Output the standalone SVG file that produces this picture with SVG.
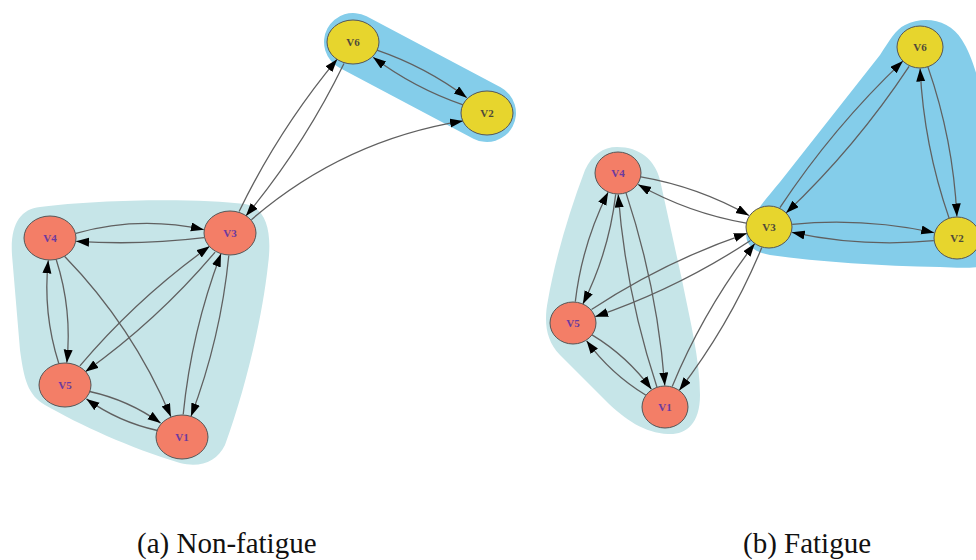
<svg xmlns="http://www.w3.org/2000/svg" width="976" height="560" viewBox="0 0 976 560">
  <style>
    .hull-a { fill: #c6e5e8; }
    .hull-b { fill: #84cdea; }
    .edge { fill: none; stroke: #606060; stroke-width: 1.3; marker-end: url(#arrow); }
    .node-r ellipse { fill: #f37e67; stroke: #555; stroke-width: 1; }
    .node-y ellipse { fill: #e7d52d; stroke: #555; stroke-width: 1; }
    .node-r text, .node-y text { font-family: "Liberation Serif", "DejaVu Serif", serif; font-weight: bold; font-size: 11px; text-anchor: middle; dominant-baseline: central; }
    .node-r text { fill: #6a3aa0; }
    .node-y text { fill: #4e4a3a; }
    .caption { font-family: "Liberation Serif", "Times New Roman", serif; font-size: 29px; fill: #111; }
  </style>
  <defs>
    <marker id="arrow" markerUnits="userSpaceOnUse" markerWidth="14" markerHeight="10" refX="13" refY="4.5" orient="auto">
      <path d="M0,0 L13,4.5 L0,9 Z" fill="#000"/>
    </marker>
  </defs>

  <!-- cluster backgrounds -->
  <g id="clusters">
    <path class="hull-a" d="M40,207 C100,199 200,198 245,204 C268,208 272,235 268,265 C262,320 245,390 225,445 C217,462 200,468 180,463 C130,448 80,425 45,405 C28,395 24,380 20,350 L12,255 C10,225 20,209 40,207 Z"/>
    <line x1="353" y1="42" x2="487" y2="113" stroke="#84cdea" stroke-width="58" stroke-linecap="round"/>
    <path class="hull-a" d="M617,147 C640,147 655,160 660,180 L682,280 C690,320 700,360 700,395 C700,425 685,435 668,434 C645,433 625,420 605,400 L560,355 C545,340 544,320 548,300 C555,260 568,215 585,170 C592,155 603,147 617,147 Z"/>
    <path class="hull-b" d="M905,25 C925,15 950,20 962,40 C975,60 985,100 990,150 L995,260 C985,270 960,268 940,267 C880,266 820,262 770,255 C752,252 742,242 748,228 C752,215 765,200 780,182 L880,55 C890,40 895,30 905,25 Z"/>
  </g>

  <!-- connectors -->
  <g id="edges">
    <!-- (a) -->
    <path class="edge" d="M75.9,233.3 Q139.4,215.5 203.9,229.7"/>
    <path class="edge" d="M204.1,237.7 Q140.3,245.5 76.1,241.3"/>
    <path class="edge" d="M56.2,259.5 Q72.4,310.0 66.8,362.7"/>
    <path class="edge" d="M58.8,363.5 Q42.6,313.0 48.3,260.3"/>
    <path class="edge" d="M64.5,256.2 Q132.7,326.4 170.9,416.7"/>
    <path class="edge" d="M215.1,252.1 Q157.7,320.0 85.3,371.7"/>
    <path class="edge" d="M79.9,365.9 Q137.3,298.0 209.7,246.3"/>
    <path class="edge" d="M228.8,255.5 Q220.6,338.4 191.0,416.3"/>
    <path class="edge" d="M183.2,414.5 Q191.4,331.6 221.0,253.7"/>
    <path class="edge" d="M89.6,391.5 Q128.4,400.0 160.6,423.1"/>
    <path class="edge" d="M157.4,430.5 Q118.6,422.0 86.4,398.9"/>
    <path class="edge" d="M239.1,211.5 Q278.9,129.4 337.2,59.2"/>
    <path class="edge" d="M344.0,63.5 Q304.1,145.6 245.9,215.9"/>
    <path class="edge" d="M251.4,219.7 Q343.3,140.4 463.0,120.9"/>
    <path class="edge" d="M376.9,50.2 Q425.6,66.9 466.9,97.8"/>
    <path class="edge" d="M463.1,104.8 Q414.4,88.1 373.1,57.2"/>
    <!-- (b) -->
    <path class="edge" d="M640.8,176.9 Q698.2,186.8 749.0,215.5"/>
    <path class="edge" d="M746.3,223.1 Q688.8,213.2 638.1,184.5"/>
    <path class="edge" d="M615.7,194.4 Q608.9,252.0 582.9,303.9"/>
    <path class="edge" d="M575.3,301.6 Q582.1,244.0 608.1,192.2"/>
    <path class="edge" d="M626.0,192.9 Q657.2,286.9 664.8,385.6"/>
    <path class="edge" d="M657.0,387.2 Q625.8,293.2 618.2,194.5"/>
    <path class="edge" d="M591.5,309.5 Q664.4,261.5 746.9,233.3"/>
    <path class="edge" d="M750.5,240.5 Q677.6,288.5 595.1,316.7"/>
    <path class="edge" d="M592.0,334.9 Q627.1,356.1 651.4,389.2"/>
    <path class="edge" d="M646.0,395.2 Q610.9,373.9 586.6,340.8"/>
    <path class="edge" d="M761.8,247.6 Q730.0,324.5 679.2,390.4"/>
    <path class="edge" d="M672.2,386.4 Q704.0,309.5 754.8,243.6"/>
    <path class="edge" d="M779.9,207.7 Q833.0,127.4 902.9,61.1"/>
    <path class="edge" d="M909.1,66.3 Q856.0,146.6 786.1,212.9"/>
    <path class="edge" d="M927.9,66.9 Q953.2,139.6 956.9,216.5"/>
    <path class="edge" d="M949.1,218.1 Q923.8,145.4 920.1,68.5"/>
    <path class="edge" d="M792.2,224.3 Q863.9,217.5 934.2,232.7"/>
    <path class="edge" d="M933.8,240.7 Q862.1,247.5 791.8,232.3"/>
  </g>

  <!-- (a) nodes -->
  <g id="a-V4" class="node-r"><ellipse cx="50" cy="238" rx="26" ry="22"/><text x="50" y="238">V4</text></g>
  <g id="a-V3" class="node-r"><ellipse cx="230" cy="233" rx="26" ry="22"/><text x="230" y="233">V3</text></g>
  <g id="a-V5" class="node-r"><ellipse cx="65" cy="385" rx="26" ry="22"/><text x="65" y="385">V5</text></g>
  <g id="a-V1" class="node-r"><ellipse cx="182" cy="437" rx="26" ry="22"/><text x="182" y="437">V1</text></g>
  <g id="a-V6" class="node-y"><ellipse cx="353" cy="42" rx="26" ry="22"/><text x="353" y="42">V6</text></g>
  <g id="a-V2" class="node-y"><ellipse cx="487" cy="113" rx="26" ry="22"/><text x="487" y="113">V2</text></g>

  <!-- (b) nodes -->
  <g id="b-V4" class="node-r"><ellipse cx="618" cy="173" rx="23" ry="21"/><text x="618" y="173">V4</text></g>
  <g id="b-V5" class="node-r"><ellipse cx="573" cy="323" rx="23" ry="21"/><text x="573" y="323">V5</text></g>
  <g id="b-V1" class="node-r"><ellipse cx="665" cy="407" rx="23" ry="21"/><text x="665" y="407">V1</text></g>
  <g id="b-V3" class="node-y"><ellipse cx="769" cy="227" rx="23" ry="21"/><text x="769" y="227">V3</text></g>
  <g id="b-V6" class="node-y"><ellipse cx="920" cy="47" rx="23" ry="21"/><text x="920" y="47">V6</text></g>
  <g id="b-V2" class="node-y"><ellipse cx="957" cy="238" rx="23" ry="21"/><text x="957" y="238">V2</text></g>

  <!-- captions -->
  <text class="caption" x="137" y="553">(a) Non-fatigue</text>
  <text class="caption" x="743" y="553">(b) Fatigue</text>
</svg>
